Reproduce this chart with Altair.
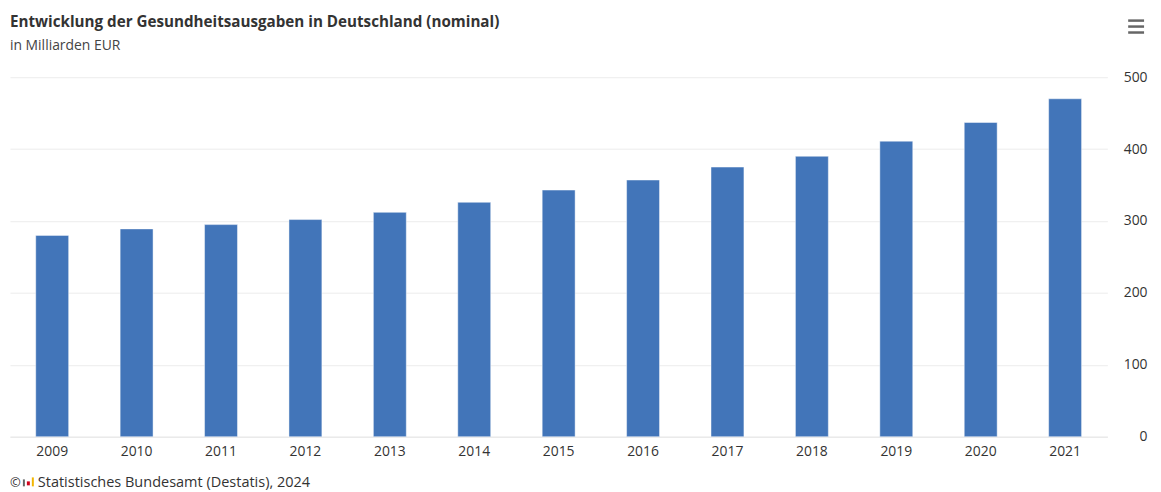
import altair as alt
import pandas as pd

years = ["2009", "2010", "2011", "2012", "2013", "2014", "2015",
         "2016", "2017", "2018", "2019", "2020", "2021"]
values = [280, 289, 295, 302, 312, 326, 343, 357, 375, 390, 411, 437, 470]

title_text = "Entwicklung der Gesundheitsausgaben in Deutschland (nominal)"
subtitle_text = "in Milliarden EUR"
footer_text = "Statistisches Bundesamt (Destatis), 2024"

FONT = "Open Sans"
W, H = 1105, 362

df = pd.DataFrame({"Jahr": years, "Wert": values})

bars = alt.Chart(df).mark_bar(
    color="#4275b9", stroke="#ffffff", strokeWidth=1, strokeOpacity=0.45
).encode(
    x=alt.X("Jahr:N", sort=years, title=None,
            scale=alt.Scale(paddingInner=0.61, paddingOuter=0.305),
            axis=alt.Axis(labelAngle=0, labelFont=FONT, labelFontSize=14,
                          labelColor="#333333", ticks=False, domain=True,
                          grid=False, domainColor="#e6e6e6", labelPadding=8)),
    y=alt.Y("Wert:Q", title=None,
            scale=alt.Scale(domain=[0, 500], nice=False),
            axis=alt.Axis(orient="right", values=[0, 100, 200, 300, 400, 500],
                          labelAlign="right", labelPadding=40, ticks=False,
                          domain=False, gridColor="#ececec", labelFont=FONT,
                          labelFontSize=14, labelColor="#333333")),
)

def text_layer(txt, x, y, size, weight="normal", color="#333333",
               font=FONT, align="left"):
    return alt.Chart(pd.DataFrame({"t": [txt]})).mark_text(
        align=align, baseline="alphabetic", font=font, fontSize=size,
        fontWeight=weight, color=color
    ).encode(x=alt.value(x), y=alt.value(y), text="t:N")

title = text_layer(title_text, 0, -51, 15.3, weight="bold", color="#333333")
subtitle = text_layer(subtitle_text, 0, -27, 14, color="#444444")
footer = text_layer(footer_text, 28, H + 51, 14.6)
copy = text_layer("©", 0, H + 51, 13)

# decorative icons (menu button and Destatis logo), drawn as pixel-space rules
deco = pd.DataFrame({
    "x1": [W + 21, W + 21, W + 21, 14, 18.5, 23],
    "x2": [W + 37, W + 37, W + 37, 14, 18.5, 23],
    "y1": [-57, -51, -45, 405, 407, 403],
    "y2": [-57, -51, -45, 412, 411, 412],
    "c": ["#666666", "#666666", "#666666", "#666666", "#d0021b", "#f2b600"],
    "w": [2.5, 2.5, 2.5, 2, 3, 2],
})
icons = alt.Chart(deco).mark_rule().encode(
    x=alt.X("x1:Q", scale=None, axis=None),
    x2="x2:Q",
    y=alt.Y("y1:Q", scale=None, axis=None),
    y2="y2:Q",
    color=alt.Color("c:N", scale=None),
    strokeWidth=alt.StrokeWidth("w:Q", scale=None),
)

chart = alt.layer(bars, title, subtitle, footer, copy, icons).resolve_scale(
    x="independent", y="independent"
).properties(
    width=W, height=H,
    background="#ffffff",
    autosize=alt.AutoSizeParams(type="none"),
    padding={"left": 2, "top": 68, "right": 46, "bottom": 54},
).configure_view(stroke="transparent", strokeWidth=0).configure_axisX(
    grid=False
)

chart.save("out.html", embed_options={"renderer": "svg", "actions": False})
